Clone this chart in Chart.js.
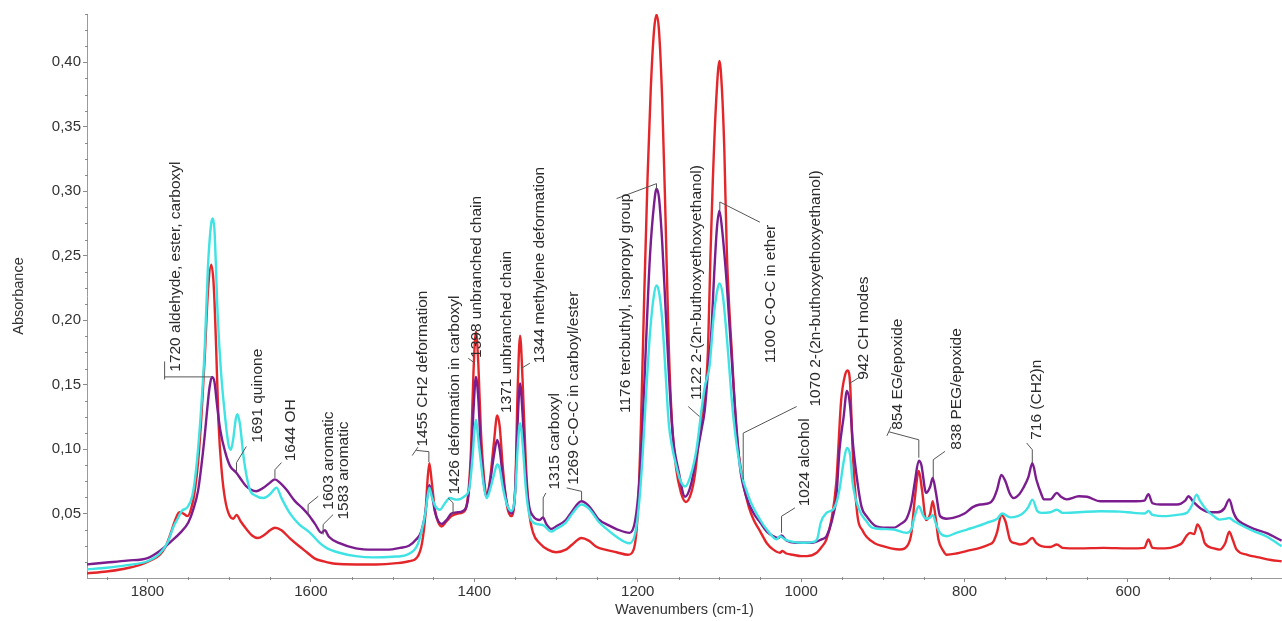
<!DOCTYPE html>
<html>
<head>
<meta charset="utf-8">
<title>FTIR spectra</title>
<script src="https://cdn.jsdelivr.net/npm/chart.js@4.4.1/dist/chart.umd.min.js"></script>
<style>
    html, body { margin: 0; padding: 0; background: #fff; }
    #wrap { width: 1282px; height: 621px; position: relative; }
</style>
</head>
<body>
<div id="wrap"><canvas id="spectra"></canvas></div>
<script>
// --- spectra (wavenumber cm-1 / absorbance) ---
const redWn = [1874,1850,1830,1810,1795,1785,1778,1772,1766,1761,1756,1751,1746,1742,1738,1734,1730,1726,1722,1719,1716,1713,1709,1705,1700,1695,1691,1686,1679,1672,1665,1658,1650,1644,1636,1626,1615,1605,1595,1585,1570,1545,1520,1495,1480,1470,1464,1460,1457,1455,1452,1448,1444,1440,1434,1428,1420,1414,1408,1404,1401,1398,1395,1392,1388,1385,1381,1376,1372,1369,1365,1360,1355,1350,1347,1344,1341,1337,1333,1328,1320,1310,1300,1288,1280,1269,1260,1250,1240,1226,1212,1205,1200,1196,1192,1188,1184,1180,1177,1174,1170,1166,1162,1158,1153,1147,1141,1135,1130,1125,1122,1118,1114,1111,1108,1104,1100,1097,1094,1091,1088,1085,1079,1071,1064,1058,1050,1042,1034,1026,1023,1018,1010,1000,993,981,975,969,963,957,951,946,943,940,937,931,925,920,910,900,890,879,870,865,861,856,852,847,842,839,835,832,826,822,810,797,781,770,765,760,755,750,744,738,732,725,717,712,706,695,687,680,660,630,600,580,575,570,555,540,534,528,524,519,515,510,506,495,488,481,476,472,467,454,440,425,412];
const redAbs = [0.0036,0.005,0.007,0.010,0.014,0.018,0.024,0.034,0.045,0.051,0.050,0.048,0.055,0.068,0.09,0.125,0.17,0.222,0.243,0.228,0.18,0.12,0.082,0.061,0.049,0.046,0.049,0.044,0.038,0.033,0.031,0.033,0.037,0.039,0.037,0.031,0.025,0.020,0.015,0.013,0.011,0.0105,0.0105,0.0115,0.013,0.016,0.027,0.048,0.078,0.089,0.074,0.052,0.043,0.040,0.044,0.048,0.050,0.051,0.062,0.10,0.16,0.191,0.165,0.115,0.077,0.064,0.075,0.105,0.126,0.118,0.085,0.056,0.048,0.068,0.145,0.188,0.155,0.09,0.052,0.035,0.027,0.022,0.020,0.022,0.026,0.031,0.029,0.024,0.022,0.020,0.018,0.022,0.05,0.12,0.22,0.31,0.38,0.425,0.437,0.425,0.37,0.28,0.18,0.12,0.085,0.066,0.059,0.065,0.08,0.108,0.123,0.14,0.177,0.25,0.31,0.37,0.401,0.38,0.332,0.254,0.21,0.177,0.112,0.074,0.055,0.045,0.036,0.027,0.022,0.0196,0.021,0.019,0.018,0.017,0.017,0.0196,0.024,0.030,0.045,0.074,0.138,0.158,0.161,0.15,0.10,0.048,0.037,0.032,0.027,0.0247,0.023,0.0221,0.025,0.035,0.061,0.083,0.068,0.045,0.050,0.0595,0.045,0.030,0.021,0.018,0.019,0.021,0.0234,0.026,0.028,0.036,0.049,0.044,0.029,0.027,0.026,0.027,0.031,0.027,0.0247,0.024,0.026,0.0234,0.023,0.0234,0.023,0.0234,0.030,0.0234,0.023,0.025,0.027,0.033,0.035,0.034,0.0415,0.036,0.027,0.023,0.022,0.027,0.036,0.030,0.022,0.018,0.016,0.014,0.013];

const purpleWn = [1874,1850,1825,1800,1785,1770,1760,1750,1744,1738,1734,1730,1727,1724,1721,1718,1715,1711,1705,1699,1691,1685,1679,1667,1658,1650,1644,1638,1630,1620,1610,1603,1595,1587,1583,1578,1565,1545,1524,1505,1491,1480,1471,1465,1460,1457,1455,1452,1448,1444,1440,1434,1428,1420,1414,1408,1404,1401,1398,1395,1392,1388,1385,1381,1376,1372,1369,1365,1360,1355,1350,1347,1344,1341,1337,1333,1328,1320,1316,1312,1306,1300,1288,1280,1269,1260,1247,1236,1226,1210,1203,1198,1194,1190,1185,1180,1177,1174,1170,1166,1162,1157,1150,1142,1135,1128,1122,1118,1114,1110,1106,1103,1100,1097,1091,1083,1075,1067,1058,1050,1042,1034,1028,1024,1018,1007,987,975,969,961,957,953,948,944,940,937,931,926,920,908,895,887,878,871,865,861,856,853,847,842,839,835,830,822,814,800,790,781,770,765,760,755,750,745,740,733,728,722,717,712,706,703,695,687,682,675,660,650,634,610,590,580,575,570,560,540,530,526,520,511,500,490,482,476,471,467,459,445,431,412];
const purpleAbs = [0.0106,0.012,0.0135,0.0155,0.021,0.029,0.035,0.043,0.053,0.068,0.087,0.11,0.13,0.148,0.156,0.152,0.135,0.115,0.098,0.087,0.0815,0.076,0.071,0.0673,0.070,0.074,0.0765,0.074,0.0686,0.060,0.054,0.049,0.042,0.035,0.037,0.032,0.027,0.023,0.022,0.022,0.0234,0.025,0.030,0.036,0.050,0.066,0.072,0.065,0.051,0.044,0.042,0.045,0.050,0.051,0.052,0.060,0.09,0.13,0.156,0.138,0.10,0.072,0.063,0.073,0.095,0.107,0.10,0.078,0.058,0.050,0.068,0.12,0.151,0.128,0.08,0.056,0.048,0.045,0.047,0.042,0.038,0.040,0.045,0.052,0.0595,0.056,0.045,0.041,0.038,0.035,0.045,0.075,0.12,0.18,0.25,0.29,0.302,0.295,0.26,0.21,0.16,0.11,0.083,0.063,0.072,0.095,0.115,0.13,0.16,0.19,0.241,0.272,0.285,0.272,0.228,0.151,0.087,0.063,0.050,0.043,0.036,0.0324,0.031,0.033,0.029,0.0273,0.0273,0.030,0.0324,0.048,0.062,0.10,0.125,0.145,0.133,0.107,0.074,0.055,0.048,0.040,0.039,0.039,0.042,0.046,0.058,0.074,0.091,0.088,0.066,0.071,0.0776,0.066,0.048,0.046,0.0466,0.050,0.055,0.057,0.058,0.061,0.069,0.080,0.075,0.066,0.062,0.065,0.070,0.078,0.089,0.076,0.065,0.061,0.061,0.066,0.063,0.061,0.0634,0.063,0.0595,0.0595,0.0595,0.060,0.065,0.058,0.057,0.057,0.060,0.0634,0.059,0.054,0.051,0.051,0.054,0.061,0.051,0.046,0.042,0.038,0.035,0.029];

const cyanWn = [1874,1850,1825,1800,1785,1775,1768,1763,1758,1751,1745,1740,1735,1730,1726,1722,1720,1718,1714,1710,1705,1701,1698,1695,1692,1690,1687,1682,1675,1668,1658,1650,1642,1636,1626,1615,1601,1589,1580,1565,1545,1524,1500,1483,1470,1465,1460,1457,1455,1452,1448,1442,1436,1430,1422,1412,1406,1402,1400,1398,1396,1392,1388,1385,1381,1376,1372,1369,1365,1360,1355,1350,1347,1344,1341,1337,1333,1328,1316,1306,1300,1288,1280,1269,1260,1247,1236,1226,1210,1203,1198,1194,1190,1185,1180,1177,1174,1170,1166,1162,1158,1154,1148,1142,1135,1128,1122,1118,1112,1107,1103,1100,1096,1091,1083,1074,1063,1050,1042,1030,1026,1020,1010,997,985,980,976,969,961,957,953,948,944,940,937,929,920,913,900,887,871,865,861,856,851,847,842,839,835,830,822,810,797,785,773,760,754,744,735,728,722,717,711,706,695,687,680,660,634,610,593,580,575,570,553,540,528,522,516,512,504,495,488,480,476,470,463,445,431,412];
const cyanAbs = [0.0067,0.008,0.010,0.013,0.019,0.028,0.040,0.046,0.052,0.055,0.064,0.087,0.125,0.177,0.241,0.275,0.279,0.27,0.203,0.16,0.125,0.104,0.0995,0.108,0.123,0.127,0.12,0.092,0.069,0.064,0.062,0.065,0.070,0.062,0.0505,0.042,0.035,0.027,0.023,0.0196,0.017,0.016,0.0165,0.018,0.025,0.035,0.050,0.064,0.070,0.063,0.056,0.053,0.058,0.062,0.0608,0.0634,0.070,0.095,0.113,0.1227,0.113,0.09,0.07,0.062,0.068,0.080,0.088,0.085,0.070,0.057,0.052,0.065,0.10,0.12,0.105,0.07,0.05,0.043,0.041,0.036,0.038,0.043,0.050,0.057,0.054,0.043,0.037,0.032,0.027,0.035,0.06,0.095,0.14,0.19,0.22,0.227,0.222,0.20,0.16,0.12,0.102,0.09,0.076,0.071,0.08,0.10,0.13,0.148,0.165,0.203,0.222,0.2285,0.22,0.187,0.125,0.084,0.061,0.045,0.0376,0.030,0.0324,0.030,0.028,0.0273,0.028,0.031,0.043,0.0505,0.053,0.058,0.069,0.09,0.1008,0.095,0.074,0.053,0.044,0.039,0.038,0.0376,0.035,0.038,0.048,0.0556,0.049,0.046,0.047,0.049,0.042,0.035,0.0324,0.035,0.0376,0.040,0.0428,0.046,0.050,0.047,0.048,0.0505,0.055,0.0608,0.052,0.0505,0.051,0.053,0.0505,0.051,0.0518,0.0515,0.0505,0.050,0.052,0.049,0.048,0.049,0.0505,0.056,0.0647,0.060,0.053,0.048,0.0453,0.046,0.0466,0.044,0.0415,0.036,0.0324,0.0247];

// --- axes ---
const xTicks = [1800, 1600, 1400, 1200, 1000, 800, 600];
const yTicks = [0.05, 0.10, 0.15, 0.20, 0.25, 0.30, 0.35, 0.40];

// --- band labels: text foot at [wn, abs], leader polylines in data units ---
const bandLabels = [
    { text: '1720 aldehyde, ester, carboxyl', at: [1765, 0.160], lead: [[[1779, 0.168], [1779, 0.154]], [[1779, 0.156], [1721, 0.156]]] },
    { text: '1691 quinone', at: [1665.6, 0.105], lead: [[[1679, 0.102], [1691, 0.0895], [1691, 0.0827]]] },
    { text: '1644 OH', at: [1624.6, 0.0905], lead: [[[1636, 0.0895], [1644, 0.084], [1644, 0.0776]]] },
    { text: '1603 aromatic', at: [1578, 0.053], lead: [[[1591, 0.0634], [1603.4, 0.057], [1603.4, 0.0492]]] },
    { text: '1583 aromatic', at: [1559.7, 0.0453], lead: [[[1572.8, 0.0492], [1585, 0.0415], [1585, 0.0337]]] },
    { text: '1455 CH2 deformation', at: [1463, 0.102], lead: [[[1476, 0.095], [1469, 0.1015]], [[1471, 0.099], [1455.6, 0.098], [1455.6, 0.090]]] },
    { text: '1426 deformation in carboxyl', at: [1423.8, 0.0647], lead: [[[1432, 0.0621], [1426, 0.0583], [1426, 0.0492]]] },
    { text: '1398 unbranched chain', at: [1396.9, 0.1707], lead: [[[1407.5, 0.1705], [1399.3, 0.1666]]] },
    { text: '1371 unbranched chain', at: [1360.2, 0.128], lead: [] },
    { text: '1344 methylene deformation', at: [1319.8, 0.1666], lead: [[[1332, 0.1666], [1342.2, 0.1627]]] },
    { text: '1315 carboxyl', at: [1301.4, 0.0686], lead: [[[1312.4, 0.066], [1315.7, 0.0621], [1315.7, 0.0467]]] },
    { text: '1269 C-O-C in carboyl/ester', at: [1278.2, 0.0724], lead: [[[1287, 0.0699], [1268.7, 0.0672], [1268.7, 0.0595]]] },
    { text: '1176 tercbuthyl, isopropyl group', at: [1214.5, 0.128], lead: [[[1225.9, 0.2943], [1177, 0.3059], [1177, 0.302]]] },
    { text: '1122 2-(2n-buthoxyethoxyethanol)', at: [1127.6, 0.138], lead: [[[1138.2, 0.133], [1124.5, 0.1253]]] },
    { text: '1100 C-O-C in ether', at: [1037, 0.1666], lead: [[[1050.5, 0.276], [1099.5, 0.2917], [1099.5, 0.2852]]] },
    { text: '1070 2-(2n-buthoxyethoxyethanol)', at: [981.9, 0.133], lead: [[[1005.5, 0.133], [1070.9, 0.1124], [1070.9, 0.0763]]] },
    { text: '1024 alcohol', at: [996, 0.0556], lead: [[[1007.6, 0.0544], [1024, 0.0479], [1024, 0.0351]]] },
    { text: '942 CH modes', at: [923.2, 0.1537], lead: [[[928, 0.156], [941.5, 0.1506]]] },
    { text: '854 EG/epoxide', at: [882.1, 0.115], lead: [[[895, 0.1103], [890, 0.1173]], [[892.5, 0.1134], [856, 0.1072], [856, 0.0933]]] },
    { text: '838 PEG/epoxide', at: [809.7, 0.0995], lead: [[[824, 0.0982], [838.3, 0.0918], [838.3, 0.0776]]] },
    { text: '716 (CH2)n', at: [711.7, 0.1072], lead: [[[724, 0.1047], [717.1, 0.0995], [717.1, 0.0892]]] }
];

const FONT = 'Arial, "Liberation Sans", sans-serif';

const toPoints = (wn, abs) => wn.map((w, i) => ({ x: w, y: abs[i] }));

// minor ticks on both axes
const minorTicks = {
    id: 'minorTicks',
    afterDraw(chart) {
        const { ctx, scales: { x, y }, chartArea } = chart;
        ctx.save();
        ctx.strokeStyle = '#8a8a8a';
        ctx.lineWidth = 1;
        ctx.beginPath();
        for (let w = 450; w <= 1850; w += 50) {
            if (w % 200 === 0) continue;
            const px = Math.round(x.getPixelForValue(w)) + 0.5;
            ctx.moveTo(px, chartArea.bottom - 1);
            ctx.lineTo(px, chartArea.bottom + 2);
        }
        for (let k = 1; k <= 35; k++) {
            if (k % 4 === 0) continue;
            const py = Math.round(y.getPixelForValue(k * 0.0125)) + 0.5;
            ctx.moveTo(chartArea.left - 2, py);
            ctx.lineTo(chartArea.left + 1, py);
        }
        ctx.stroke();
        ctx.restore();
    }
};

// rotated band labels with their leader lines
const bandNotes = {
    id: 'bandNotes',
    afterDatasetsDraw(chart) {
        const { ctx, scales: { x, y } } = chart;
        ctx.save();
        ctx.strokeStyle = '#555';
        ctx.lineWidth = 1;
        bandLabels.forEach(b => {
            b.lead.forEach(line => {
                ctx.beginPath();
                line.forEach(([w, a], i) => {
                    const px = x.getPixelForValue(w), py = y.getPixelForValue(a);
                    i ? ctx.lineTo(px, py) : ctx.moveTo(px, py);
                });
                ctx.stroke();
            });
        });
        ctx.fillStyle = '#2b2b2b';
        ctx.font = '15.5px ' + FONT;
        ctx.textAlign = 'left';
        ctx.textBaseline = 'middle';
        bandLabels.forEach(b => {
            ctx.save();
            ctx.translate(x.getPixelForValue(b.at[0]), y.getPixelForValue(b.at[1]));
            ctx.rotate(-Math.PI / 2);
            ctx.fillText(b.text, 0, 0);
            ctx.restore();
        });
        ctx.restore();
    }
};

const lineSet = (label, data, color) => ({
    label,
    data,
    borderColor: color,
    backgroundColor: color,
    borderWidth: 2.4,
    pointRadius: 0,
    cubicInterpolationMode: 'monotone',
    fill: false
});

new Chart(document.getElementById('spectra'), {
    type: 'line',
    data: {
        datasets: [
            lineSet('Sample 1', toPoints(cyanWn, cyanAbs), '#3fe3e3'),
            lineSet('Sample 2', toPoints(purpleWn, purpleAbs), '#7b1d8e'),
            lineSet('Sample 3', toPoints(redWn, redAbs), '#e4262a')
        ]
    },
    options: {
        responsive: true,
        maintainAspectRatio: false,
        animation: false,
        events: [],
        layout: { padding: { top: 14, right: 0, left: 0, bottom: 0 } },
        plugins: { legend: { display: false }, tooltip: { enabled: false } },
        scales: {
            x: {
                type: 'linear',
                reverse: true,
                min: 411.5,
                max: 1874,
                afterBuildTicks: axis => { axis.ticks = xTicks.map(v => ({ value: v })); },
                afterFit: axis => { axis.height = 43; },
                border: { display: true, color: '#9a9a9a', width: 1 },
                grid: { display: true, drawOnChartArea: false, drawTicks: true, tickLength: 4, color: '#8a8a8a' },
                ticks: { color: '#333', font: { family: FONT, size: 15 }, padding: 1, maxRotation: 0, callback: v => String(v) },
                title: { display: true, text: 'Wavenumbers (cm-1)', color: '#333', font: { family: FONT, size: 14.5 }, padding: { top: 0, bottom: 2 } }
            },
            y: {
                min: 0,
                max: 0.4375,
                afterBuildTicks: axis => { axis.ticks = yTicks.map(v => ({ value: v })); },
                afterFit: axis => { axis.width = 87; },
                border: { display: true, color: '#9a9a9a', width: 1 },
                grid: { display: true, drawOnChartArea: false, drawTicks: true, tickLength: 4, color: '#8a8a8a' },
                ticks: {
                    color: '#333',
                    font: { family: FONT, size: 15 },
                    padding: 2,
                    callback: v => v.toFixed(2).replace('.', ',')
                },
                title: { display: true, text: 'Absorbance', color: '#333', font: { family: FONT, size: 14.5 }, padding: { top: 10, bottom: 0 } }
            }
        }
    },
    plugins: [minorTicks, bandNotes]
});
</script>
</body>
</html>
